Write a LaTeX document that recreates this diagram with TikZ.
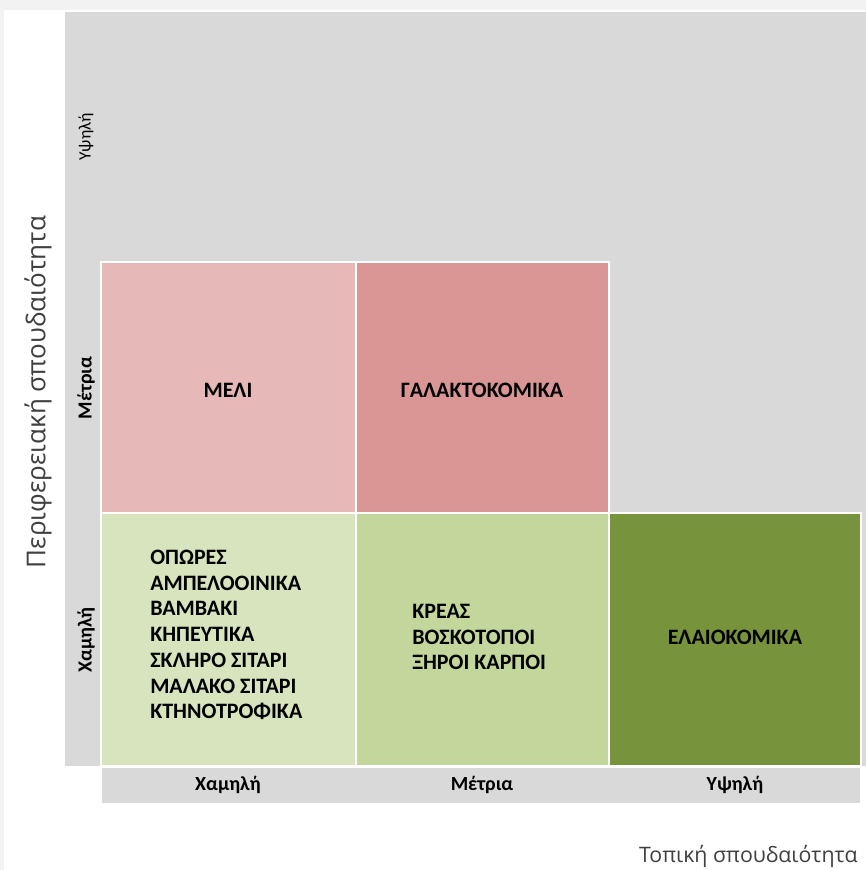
\documentclass[tikz,border=0pt]{standalone}
\usepackage{fontspec}
\setmainfont{Carlito}
\newfontfamily\titlefont{Open Sans}
\definecolor{panelgray}{HTML}{D9D9D9}
\definecolor{shadegray}{HTML}{F2F2F2}
\definecolor{pinklight}{HTML}{E6B9B8}
\definecolor{pinkdark}{HTML}{D99694}
\definecolor{greenlight}{HTML}{D7E4BD}
\definecolor{greenmid}{HTML}{C3D69B}
\definecolor{olive}{HTML}{77933C}
\definecolor{titlegray}{HTML}{404040}

\begin{document}
\begin{tikzpicture}[x=0.75pt,y=-0.75pt,
  cell/.style={draw=white, line width=1.5pt},
  celltext/.style={font=\bfseries\fontsize{16.5}{19.3}\selectfont, align=left, inner sep=0pt},
  axislabel/.style={font=\bfseries\fontsize{15}{17}\selectfont, inner sep=0pt},
  axistitle/.style={font=\titlefont\fontsize{16}{19}\selectfont, text=titlegray, inner sep=0pt}]
\useasboundingbox (0,0) rectangle (866,870);
\fill [white] (0,0) rectangle (866,870);
\fill [shadegray] (0,0) rectangle (866,10);
\fill [shadegray] (0,0) rectangle (4,870);
\fill [panelgray] (65,12) rectangle (866,766);
\fill [white] (65,766) rectangle (866,768);
\fill [panelgray] (102,768) rectangle (860,803);
\draw [cell, fill=pinklight] (101,262) rectangle (356,513);
\draw [cell, fill=pinkdark] (356,262) rectangle (609,513);
\draw [cell, fill=greenlight] (101,513) rectangle (356,766);
\draw [cell, fill=greenmid] (356,513) rectangle (609,766);
\draw [cell, fill=olive] (609,513) rectangle (861,766);
\node [celltext] (meli) at (228,390) {ΜΕΛΙ};
\node [celltext] (galakto) at (482,390) {ΓΑΛΑΚΤΟΚΟΜΙΚΑ};
\node [celltext, anchor=west] (lowlow) at (150,635) {ΟΠΩΡΕΣ\\ΑΜΠΕΛΟΟΙΝΙΚΑ\\ΒΑΜΒΑΚΙ\\ΚΗΠΕΥΤΙΚΑ\\ΣΚΛΗΡΟ ΣΙΤΑΡΙ\\ΜΑΛΑΚΟ ΣΙΤΑΡΙ\\ΚΤΗΝΟΤΡΟΦΙΚΑ};
\node [celltext, anchor=west] (lowmid) at (412,637) {ΚΡΕΑΣ\\ΒΟΣΚΟΤΟΠΟΙ\\ΞΗΡΟΙ ΚΑΡΠΟΙ};
\node [celltext] (lowhigh) at (735,637) {ΕΛΑΙΟΚΟΜΙΚΑ};
\node [axislabel] (xlow) at (228,785) {Χαμηλή};
\node [axislabel] (xmid) at (482,785) {Μέτρια};
\node [axislabel] (xhigh) at (735,785) {Υψηλή};
\node [axislabel, rotate=90] (ylow) at (86,640) {Χαμηλή};
\node [axislabel, rotate=90] (ymid) at (86,388) {Μέτρια};
\node [axislabel, font=\fontsize{13}{15}\selectfont, rotate=90] (yhigh) at (86,137) {Υψηλή};
\node [axistitle, font=\titlefont\fontsize{19.5}{22}\selectfont, rotate=90] (ytitle) at (38,392) {Περιφερειακή σπουδαιότητα};
\node [axistitle, anchor=east] (xtitle) at (858,856) {Τοπική σπουδαιότητα};
\end{tikzpicture}
\end{document}
